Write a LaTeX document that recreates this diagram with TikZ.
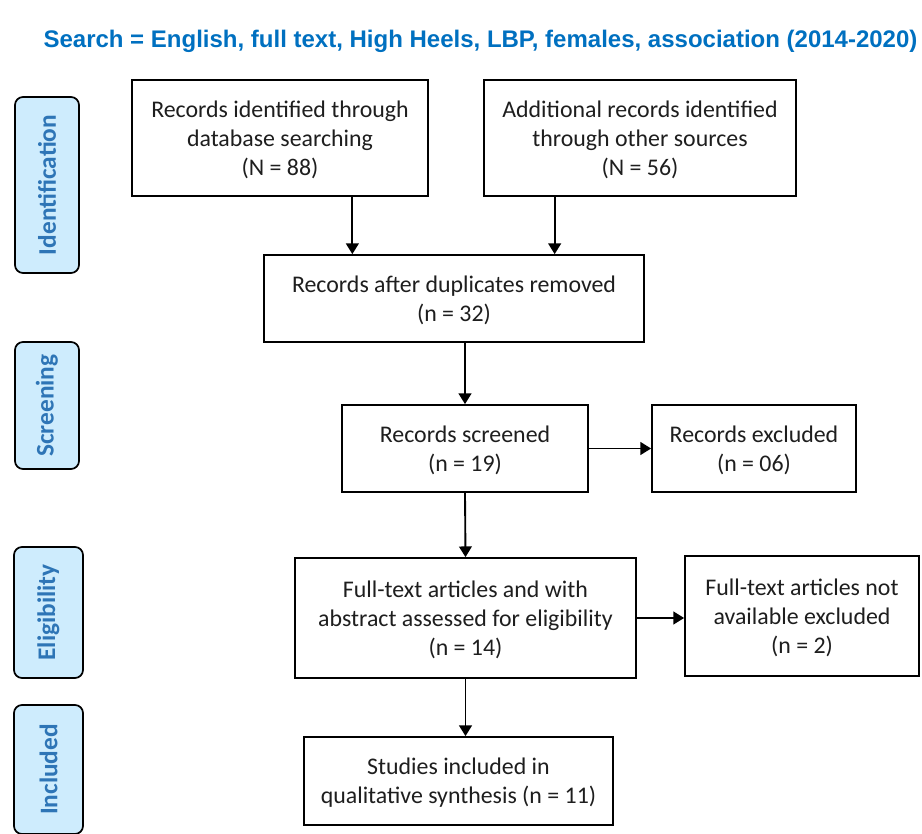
\documentclass[tikz,border=0pt]{standalone}
\usepackage{fontspec}
\setmainfont{Carlito}
\newfontfamily\titlefont{Liberation Sans}
\usepackage{tikz}
\usetikzlibrary{arrows.meta,positioning,calc}
\definecolor{azultitulo}{RGB}{0,112,192}
\definecolor{azulfase}{RGB}{46,117,182}
\definecolor{celeste}{RGB}{206,236,253}
\definecolor{texto}{RGB}{30,30,30}

\begin{document}
\begin{tikzpicture}[x=0.75pt,y=-0.75pt,
  caja/.style={draw=black,line width=1.3pt,fill=white,align=center,inner sep=0pt,
    text=texto,font=\fontsize{17.9}{21.6}\selectfont,text depth=-5.5pt},
  fase/.style={draw=black,line width=1.3pt,fill=celeste,rounded corners=6pt,rotate=90,
    inner sep=0pt,text=azulfase,font=\bfseries\fontsize{19}{22}\selectfont},
  flecha/.style={line width=1.4pt,-{Triangle[length=8pt,width=9.5pt]}}]
\useasboundingbox (0,0) rectangle (922,834);

% titulo
\node (titulo) at (480.5,41) {\titlefont\bfseries\fontsize{18}{21}\selectfont\color{azultitulo}
  Search = English, full text, High Heels, LBP, females, association (2014-2020)};

% fases
\node[fase,minimum width=176*0.75pt,minimum height=64*0.75pt] (ident) at (47,185) {Identification};
\node[fase,minimum width=127*0.75pt,minimum height=64*0.75pt] (cribado) at (47,405.5) {Screening};
\node[fase,minimum width=131*0.75pt,minimum height=69*0.75pt] (elegib) at (48.5,612.5) {Eligibility};
\node[fase,minimum width=129*0.75pt,minimum height=69*0.75pt] (incl) at (48.5,769.5) {Included};

% cajas
\node[caja,minimum width=296*0.75pt,minimum height=116*0.75pt] (bd) at (280,138)
  {Records identified through\\database searching\\(N = 88)};
\node[caja,minimum width=312*0.75pt,minimum height=116*0.75pt] (otras) at (640,138)
  {Additional records identified\\through other sources\\(N = 56)};
\node[caja,minimum width=380*0.75pt,minimum height=87*0.75pt] (dup) at (454,298.5)
  {Records after duplicates removed\\(n = 32)};
\node[caja,minimum width=246*0.75pt,minimum height=87*0.75pt] (crib) at (465,448.5)
  {Records screened\\(n = 19)};
\node[caja,minimum width=204*0.75pt,minimum height=87*0.75pt] (excl) at (754,448.5)
  {Records excluded\\(n = 06)};
\node[caja,minimum width=341*0.75pt,minimum height=120*0.75pt] (texto) at (465.5,618)
  {Full-text articles and with\\abstract assessed for eligibility\\(n = 14)};
\node[caja,minimum width=234*0.75pt,minimum height=120*0.75pt] (nodisp) at (802,616)
  {Full-text articles not\\available excluded\\(n = 2)};
\node[caja,minimum width=309*0.75pt,minimum height=88*0.75pt] (estudios) at (458.5,781)
  {Studies included in\\qualitative synthesis (n = 11)};

% flechas
\draw[flecha] ($(bd.south west)!.743!(bd.south east)$) coordinate (s1) -- (s1 |- dup.north);
\draw[flecha] ($(otras.south west)!.228!(otras.south east)$) coordinate (s2) -- (s2 |- dup.north);
\draw[flecha] (dup.south -| crib.north) -- (crib.north);
\draw[flecha] (crib.east) -- (excl.west);
\draw[flecha] (crib.south) -- (texto.north);
\draw[flecha] (texto.east) -- (texto.east -| nodisp.west);
\draw[flecha] (texto.south) -- (texto.south |- estudios.north);
\end{tikzpicture}
\end{document}
